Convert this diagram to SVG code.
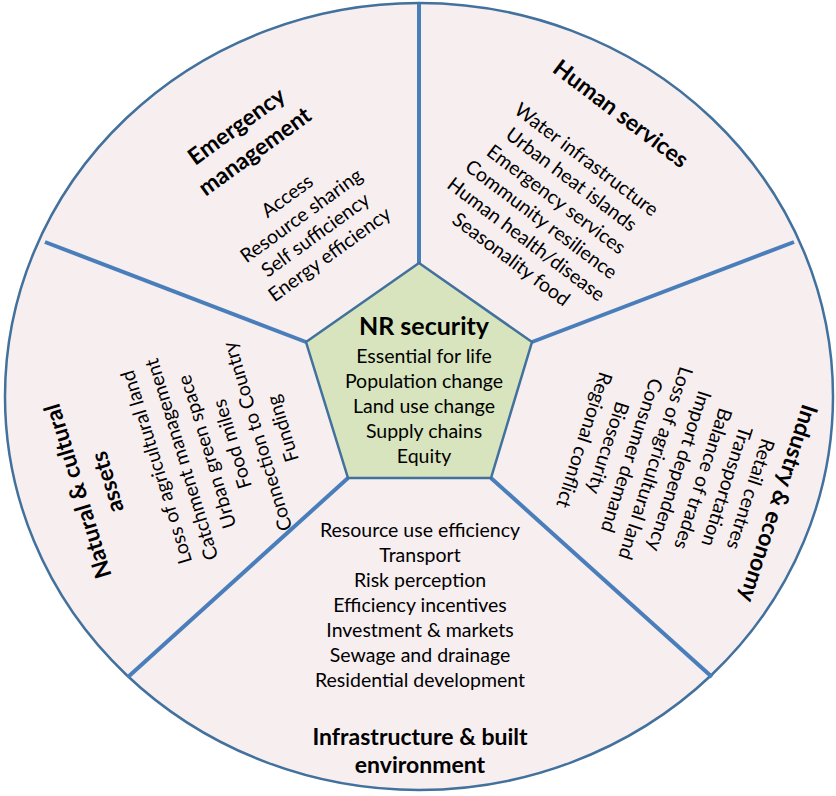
<svg xmlns="http://www.w3.org/2000/svg" width="836" height="796" viewBox="0 0 836 796">
  <style>
    text { font-family: Lato, "Open Sans", "Liberation Sans", sans-serif; fill: #000; text-anchor: middle; }
    .item { font-size: 19.5px; }
    .title { font-size: 23px; font-weight: bold; }
    .core-title { font-size: 25px; font-weight: bold; }
    .rim { fill: #F7EEF0; stroke: #41719C; stroke-width: 2.5; }
    .divider { stroke: #4A7EBB; stroke-width: 4; fill: none; }
    .core { fill: #D7E4BD; stroke: #41719C; stroke-width: 2.5; stroke-linejoin: miter; }
  </style>

  <!-- outer disc -->
  <g id="disc">
    <ellipse class="rim" cx="419" cy="396.5" rx="414" ry="393.5"/>
  </g>

  <!-- spokes separating the five themes -->
  <g id="connectors">
    <line class="divider" x1="419" y1="263" x2="419" y2="4"/>
    <line class="divider" x1="306" y1="342" x2="45" y2="242"/>
    <line class="divider" x1="532" y1="342" x2="794" y2="242"/>
    <line class="divider" x1="348" y1="478" x2="128" y2="677"/>
    <line class="divider" x1="491" y1="478" x2="712" y2="677"/>
  </g>

  <!-- central pentagon -->
  <g id="nr-security">
    <polygon class="core" points="419,263 532,342 491,478 348,478 306,342"/>
    <text class="core-title" x="424" y="335">NR security</text>
    <text class="item" x="424" y="363">Essential for life</text>
    <text class="item" x="424" y="388">Population change</text>
    <text class="item" x="424" y="413">Land use change</text>
    <text class="item" x="424" y="438">Supply chains</text>
    <text class="item" x="424" y="463">Equity</text>
  </g>

  <g id="emergency-management" transform="translate(237,127) rotate(-36)">
    <text class="title" x="0" y="7">Emergency</text>
    <text class="title" x="0" y="38">management</text>
    <text class="item" x="0" y="92">Access</text>
    <text class="item" x="0" y="116">Resource sharing</text>
    <text class="item" x="0" y="140">Self sufficiency</text>
    <text class="item" x="0" y="164">Energy efficiency</text>
  </g>

  <g id="human-services" transform="translate(586,160) rotate(37)">
    <text class="title" x="0" y="-50">Human services</text>
    <text class="item" x="0" y="6">Water infrastructure</text>
    <text class="item" x="0" y="31">Urban heat islands</text>
    <text class="item" x="0" y="56">Emergency services</text>
    <text class="item" x="0" y="81">Community resilience</text>
    <text class="item" x="0" y="106">Human health/disease</text>
    <text class="item" x="0" y="131">Seasonality food</text>
  </g>

  <g id="industry-economy" transform="translate(750,494) rotate(108)">
    <text class="title" x="0" y="-22">Industry &amp; economy</text>
    <text class="item" x="0" y="6">Retail centres</text>
    <text class="item" x="0" y="31">Transportation</text>
    <text class="item" x="0" y="56">Balance of trades</text>
    <text class="item" x="0" y="81">Import dependency</text>
    <text class="item" x="0" y="106">Loss of agricultural land</text>
    <text class="item" x="0" y="131">Consumer demand</text>
    <text class="item" x="0" y="156">Biosecurity</text>
    <text class="item" x="0" y="181">Regional conflict</text>
  </g>

  <g id="natural-cultural-assets" transform="translate(157,467) rotate(-107)">
    <text class="title" x="0" y="-75">Natural &amp; cultural</text>
    <text class="title" x="0" y="-44">assets</text>
    <text class="item" x="0" y="6">Loss of agricultural land</text>
    <text class="item" x="0" y="32.4">Catchment management</text>
    <text class="item" x="0" y="58.8">Urban green space</text>
    <text class="item" x="0" y="85.2">Food miles</text>
    <text class="item" x="0" y="111.6">Connection to Country</text>
    <text class="item" x="0" y="138">Funding</text>
  </g>

  <g id="infrastructure-built-environment">
    <text class="item" x="420" y="537">Resource use efficiency</text>
    <text class="item" x="420" y="562">Transport</text>
    <text class="item" x="420" y="587">Risk perception</text>
    <text class="item" x="420" y="612">Efficiency incentives</text>
    <text class="item" x="420" y="637">Investment &amp; markets</text>
    <text class="item" x="420" y="662">Sewage and drainage</text>
    <text class="item" x="420" y="687">Residential development</text>
    <text class="title" x="420" y="745">Infrastructure &amp; built</text>
    <text class="title" x="420" y="773">environment</text>
  </g>
</svg>
